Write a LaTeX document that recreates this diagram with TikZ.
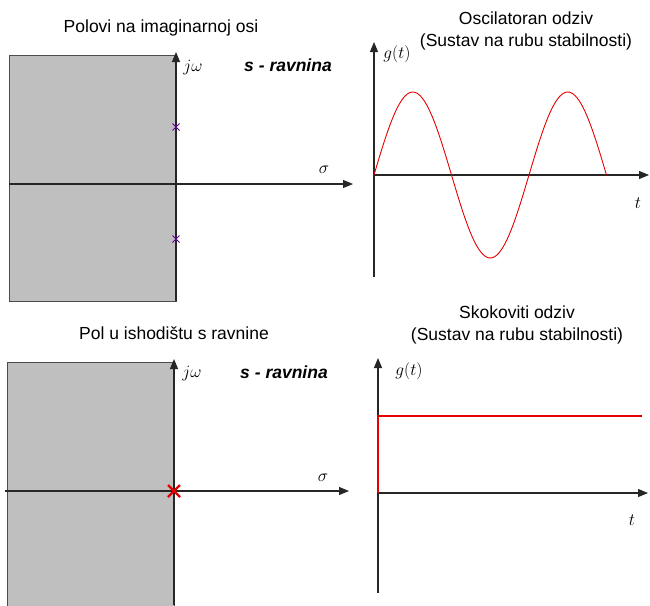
\documentclass[tikz,border=0pt]{standalone}
\usepackage{fontspec}
\setmainfont{Liberation Sans}
\usetikzlibrary{arrows.meta}
\begin{document}
\begin{tikzpicture}[x=1pt,y=-1pt,
  axis/.style={draw=black!85, line width=1.1pt, -{Triangle[length=10pt,width=8pt]}},
  plane/.style={fill=black!25, draw=black!70, line width=0.9pt},
  title/.style={font=\fontsize{17.5}{22}\selectfont, align=center, inner sep=0pt},
  plabel/.style={font=\fontsize{17.5}{20}\selectfont\bfseries\itshape, inner sep=0pt},
  mlabel/.style={font=\fontsize{17}{20}\selectfont, inner sep=0pt},
  glabel/.style={font=\fontsize{19}{22}\selectfont, inner sep=0pt},
  resp/.style={draw=red!90!black, line width=0.9pt},
  stepresp/.style={draw=red!90!black, line width=1.6pt},
  polemark/.style={draw=violet!80!blue, line width=1pt},
  bigpole/.style={draw=red!90!black, line width=2.2pt}]
\useasboundingbox (0,0) rectangle (650,605);

% ---------- top left: s-plane with poles on the imaginary axis ----------
\node[title] (t1) at (161,28) {Polovi na imaginarnoj osi};
\path[plane] (9,55) rectangle (176,301);
\coordinate (a1b) at (176,301);
\coordinate (a1t) at (176,52);
\coordinate (h1l) at (9,184);
\coordinate (h1r) at (353,184);
\draw[axis] (a1b) -- (a1t);
\draw[axis] (h1l) -- (h1r);
\node[mlabel] (jw1) at (193,68) {$j\omega$};
\node[plabel] (sr1) at (288,65) {s - ravnina};
\node[mlabel] (sg1) at (324,170) {$\sigma$};
\coordinate (p1) at (176,127);
\coordinate (p2) at (176,239);
\foreach \p in {p1,p2}{
  \draw[polemark] ([xshift=-3.5pt,yshift=-3.5pt]\p) -- ([xshift=3.5pt,yshift=3.5pt]\p);
  \draw[polemark] ([xshift=-3.5pt,yshift=3.5pt]\p) -- ([xshift=3.5pt,yshift=-3.5pt]\p);
}

% ---------- top right: oscillatory response ----------
\node[title] (t2) at (526,31) {Oscilatoran odziv\\(Sustav na rubu stabilnosti)};
\coordinate (v2b) at (374,277);
\coordinate (v2t) at (374,42);
\coordinate (h2l) at (374,175);
\coordinate (h2r) at (649,175);
\draw[axis] (v2b) -- (v2t);
\draw[axis] (h2l) -- (h2r);
\node[glabel] (g2) at (397,54) {$g(t)$};
\node[glabel] (tt2) at (638,203) {$t$};
\draw[resp] plot[domain=0:232.5, samples=120] ({374+\x},{175-83*sin(\x/155*360)});

% ---------- bottom left: pole at the origin ----------
\node[title] (t3) at (174,333) {Pol u ishodištu s ravnine};
\path[plane] (7,362) rectangle (174,610);
\coordinate (a3b) at (174,605);
\coordinate (a3t) at (174,359);
\coordinate (h3l) at (5,491);
\coordinate (h3r) at (349,491);
\draw[axis] (a3b) -- (a3t);
\draw[axis] (h3l) -- (h3r);
\node[mlabel] (jw3) at (192,374) {$j\omega$};
\node[plabel] (sr3) at (284,372) {s - ravnina};
\node[mlabel] (sg3) at (323,478) {$\sigma$};
\coordinate (p0) at (174,491);
\draw[bigpole] ([xshift=-6pt,yshift=-6pt]p0) -- ([xshift=6pt,yshift=6pt]p0);
\draw[bigpole] ([xshift=-6pt,yshift=6pt]p0) -- ([xshift=6pt,yshift=-6pt]p0);

% ---------- bottom right: step response ----------
\node[title] (t4) at (517,325) {Skokoviti odziv\\(Sustav na rubu stabilnosti)};
\coordinate (v4b) at (378,593);
\coordinate (v4t) at (378,358);
\coordinate (h4l) at (378,493);
\coordinate (h4r) at (648,493);
\draw[axis] (v4b) -- (v4t);
\draw[axis] (h4l) -- (h4r);
\node[glabel] (g4) at (409,371) {$g(t)$};
\node[glabel] (tt4) at (632,520) {$t$};
\coordinate (s0) at (378,493);
\coordinate (s1) at (378,416);
\coordinate (s2) at (642,416);
\draw[stepresp] (s0) -- (s1) -- (s2);
\end{tikzpicture}
\end{document}
